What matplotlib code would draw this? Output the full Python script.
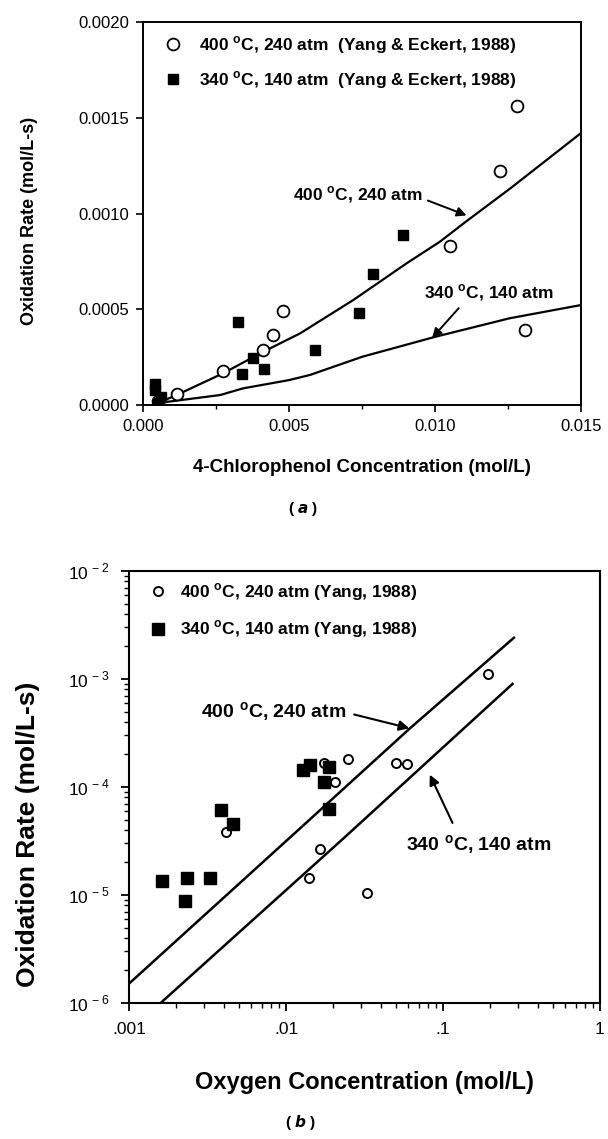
import matplotlib
matplotlib.use("Agg")
import matplotlib.pyplot as plt
from matplotlib.lines import Line2D
from matplotlib.ticker import FixedLocator, NullFormatter, LogLocator

plt.rcParams['font.family'] = ['Liberation Sans', 'DejaVu Sans']
plt.rcParams['mathtext.fontset'] = 'custom'
plt.rcParams['mathtext.rm'] = 'Liberation Sans'
plt.rcParams['mathtext.bf'] = 'Liberation Sans:bold'

# ---------------- Panel (a) data ----------------
xa_400 = [0.0005, 0.00115, 0.00274, 0.00411, 0.00446, 0.00481, 0.01052, 0.01223, 0.01282, 0.01309]
ya_400 = [0.00002, 0.00006, 0.000178, 0.000285, 0.000368, 0.00049, 0.00083, 0.00122, 0.00156, 0.00039]
xa_340 = [0.0004, 0.0004, 0.0006, 0.0005, 0.00326, 0.00338, 0.00378, 0.00415, 0.00588, 0.00741, 0.00789, 0.00889]
ya_340 = [0.00011, 0.00008, 0.00004, 0.00001, 0.000435, 0.00016, 0.000244, 0.000186, 0.000287, 0.000482, 0.000682, 0.000888]
xa_line400 = [0.0005, 0.00115, 0.00275, 0.00412, 0.00538, 0.0072, 0.00903, 0.01017, 0.01108, 0.01257, 0.015]
ya_line400 = [0.00001, 0.000052, 0.000166, 0.000278, 0.000374, 0.000548, 0.00074, 0.000853, 0.00096, 0.00113, 0.00142]
xa_line340 = [0.0005, 0.00264, 0.00343, 0.005, 0.00572, 0.00751, 0.01003, 0.01256, 0.015]
ya_line340 = [0.00001, 0.000052, 0.000087, 0.00013, 0.000157, 0.000252, 0.000357, 0.000453, 0.000522]
xa_ticks = [0.000, 0.005, 0.010, 0.015]
xa_ticklabels = ['0.000', '0.005', '0.010', '0.015']
ya_ticks = [0.0000, 0.0005, 0.0010, 0.0015, 0.0020]
ya_ticklabels = ['0.0000', '0.0005', '0.0010', '0.0015', '0.0020']

# ---------------- Panel (b) data ----------------
xb_400 = [0.00412, 0.0141, 0.01636, 0.01754, 0.0206, 0.0247, 0.0327, 0.0501, 0.0594, 0.1936]
yb_400 = [3.85e-5, 1.45e-5, 2.66e-5, 1.67e-4, 1.11e-4, 1.83e-4, 1.04e-5, 1.67e-4, 1.62e-4, 1.11e-3]
xb_340 = [0.00162, 0.00229, 0.00235, 0.00329, 0.00383, 0.00458, 0.0128, 0.0142, 0.0175, 0.0187, 0.0187]
yb_340 = [1.35e-5, 8.8e-6, 1.44e-5, 1.44e-5, 6.1e-5, 4.5e-5, 1.45e-4, 1.6e-4, 1.11e-4, 1.53e-4, 6.3e-5]
xb_line400 = [0.001, 0.0122, 0.061, 0.283]
yb_line400 = [1.51e-6, 4.1e-5, 3.45e-4, 2.41e-3]
xb_line340 = [0.00159, 0.023, 0.277]
yb_line340 = [1e-6, 3.3e-5, 9.0e-4]
xb_ticks = [0.001, 0.01, 0.1, 1]
xb_ticklabels = ['.001', '.01', '.1', '1']
yb_ticks = [1e-6, 1e-5, 1e-4, 1e-3, 1e-2]
yb_ticklabels = [r'10$^{\,-6}$', r'10$^{\,-5}$', r'10$^{\,-4}$', r'10$^{\,-3}$', r'10$^{\,-2}$']

deg = r'$^{\mathbf{o}}$'
lab_a400 = '400 ' + deg + 'C, 240 atm  (Yang & Eckert, 1988)'
lab_a340 = '340 ' + deg + 'C, 140 atm  (Yang & Eckert, 1988)'
lab_b400 = '400 ' + deg + 'C, 240 atm (Yang, 1988)'
lab_b340 = '340 ' + deg + 'C, 140 atm (Yang, 1988)'

W, H = 608, 1139
fig = plt.figure(figsize=(W / 100, H / 100), dpi=100)

def box(l, t, r, b):
    return [l / W, 1 - b / H, (r - l) / W, (b - t) / H]

# ================= Panel (a) =================
ax = fig.add_axes(box(143, 22, 581, 405))
ax.plot(xa_line400, ya_line400, color='k', lw=1.6)
ax.plot(xa_line340, ya_line340, color='k', lw=1.6)
ax.plot(xa_400, ya_400, 'o', mfc='white', mec='k', mew=1.3, ms=8.5, ls='none')
ax.plot(xa_340, ya_340, 's', mfc='k', mec='k', ms=6.5, ls='none')
ax.set_xlim(0, 0.015)
ax.set_ylim(0, 0.002)
ax.set_xticks(xa_ticks)
ax.set_xticklabels(xa_ticklabels)
ax.xaxis.set_minor_locator(FixedLocator([0.0025, 0.0075, 0.0125]))
ax.set_yticks(ya_ticks)
ax.set_yticklabels(ya_ticklabels)
ax.tick_params(axis='both', which='major', direction='out', length=5, width=1.2, labelsize=12, pad=5)
ax.tick_params(axis='both', which='minor', direction='out', length=3, width=1)
for s in ax.spines.values():
    s.set_linewidth(1.4)
ax.set_xlabel('4-Chlorophenol Concentration (mol/L)', fontsize=13.5, fontweight='bold', labelpad=18)
ax.set_ylabel('Oxidation Rate (mol/L-s)', fontsize=13, fontweight='bold')
ax.yaxis.set_label_coords(-0.24, 0.48)
h1 = Line2D([], [], marker='o', mfc='white', mec='k', mew=1.3, ms=8.5, ls='none')
h2 = Line2D([], [], marker='s', mfc='k', mec='k', ms=6.5, ls='none')
leg = ax.legend([h1, h2], [lab_a400, lab_a340], loc='upper left', bbox_to_anchor=(0.02, 1.0),
                frameon=False, prop={'size': 12.5, 'weight': 'bold'}, labelspacing=0.75,
                handletextpad=1.0, handlelength=1.0, borderaxespad=0.3)
ax.annotate('400 ' + deg + 'C, 240 atm', xy=(0.01108, 0.00099), xytext=(0.00735, 0.00110),
            ha='center', va='center', fontsize=12.5, fontweight='bold',
            arrowprops=dict(arrowstyle='-|>', color='k', lw=1.4, mutation_scale=14, shrinkA=2, shrinkB=0,
                            relpos=(1.0, 0.3)))
ax.annotate('340 ' + deg + 'C, 140 atm', xy=(0.0099, 0.00035), xytext=(0.01185, 0.000585),
            ha='center', va='center', fontsize=12.5, fontweight='bold',
            arrowprops=dict(arrowstyle='-|>', color='k', lw=1.4, mutation_scale=14, shrinkA=2, shrinkB=0,
                            relpos=(0.3, 0.0)))
fig.text(303 / W, 1 - 509 / H, '( $\\bfit{a}$ )', ha='center', va='center', fontsize=11, fontweight='bold')

# ================= Panel (b) =================
bx = fig.add_axes(box(129, 571, 600, 1003))
bx.set_xscale('log')
bx.set_yscale('log')
bx.plot(xb_line400, yb_line400, color='k', lw=1.8)
bx.plot(xb_line340, yb_line340, color='k', lw=1.8)
bx.plot(xb_400, yb_400, 'o', mfc='white', mec='k', mew=1.4, ms=6.5, ls='none')
bx.plot(xb_340, yb_340, 's', mfc='k', mec='k', ms=8, ls='none')
bx.set_xlim(0.001, 1)
bx.set_ylim(1e-6, 1e-2)
bx.set_xticks(xb_ticks)
bx.set_xticklabels(xb_ticklabels)
bx.set_yticks(yb_ticks)
bx.set_yticklabels(yb_ticklabels)
bx.xaxis.set_minor_locator(LogLocator(base=10, subs=range(2, 10), numticks=20))
bx.yaxis.set_minor_locator(LogLocator(base=10, subs=range(2, 10), numticks=20))
bx.xaxis.set_minor_formatter(NullFormatter())
bx.yaxis.set_minor_formatter(NullFormatter())
bx.tick_params(axis='both', which='major', direction='out', length=6, width=1.3, labelsize=12.5, pad=8)
bx.tick_params(axis='both', which='minor', direction='out', length=3.5, width=1)
for s in bx.spines.values():
    s.set_linewidth(1.5)
bx.set_xlabel('Oxygen Concentration (mol/L)', fontsize=17, fontweight='bold', labelpad=24)
bx.set_ylabel('Oxidation Rate (mol/L-s)', fontsize=19, fontweight='bold')
bx.yaxis.set_label_coords(-0.19, 0.39)
g1 = Line2D([], [], marker='o', mfc='white', mec='k', mew=1.4, ms=6.5, ls='none')
g2 = Line2D([], [], marker='s', mfc='k', mec='k', ms=8, ls='none')
bx.legend([g1, g2], [lab_b400, lab_b340], loc='upper left', bbox_to_anchor=(0.02, 1.0),
          frameon=False, prop={'size': 12.5, 'weight': 'bold'}, labelspacing=0.9,
          handletextpad=0.8, handlelength=1.0, borderaxespad=0.2)
bx.annotate('400 ' + deg + 'C, 240 atm', xy=(0.061, 3.5e-4), xytext=(0.0083, 4.9e-4),
            ha='center', va='center', fontsize=14, fontweight='bold',
            arrowprops=dict(arrowstyle='-|>', color='k', lw=1.5, mutation_scale=15, shrinkA=4, shrinkB=0,
                            relpos=(1.0, 0.5)))
bx.annotate('340 ' + deg + 'C, 140 atm', xy=(0.0824, 1.3e-4), xytext=(0.17, 2.9e-5),
            ha='center', va='center', fontsize=14, fontweight='bold',
            arrowprops=dict(arrowstyle='-|>', color='k', lw=1.5, mutation_scale=15, shrinkA=6, shrinkB=0,
                            relpos=(0.35, 1.0)))
fig.text(300 / W, 1 - 1122 / H, '( $\\bfit{b}$ )', ha='center', va='center', fontsize=11, fontweight='bold')

fig.savefig('out.png', dpi=100)
